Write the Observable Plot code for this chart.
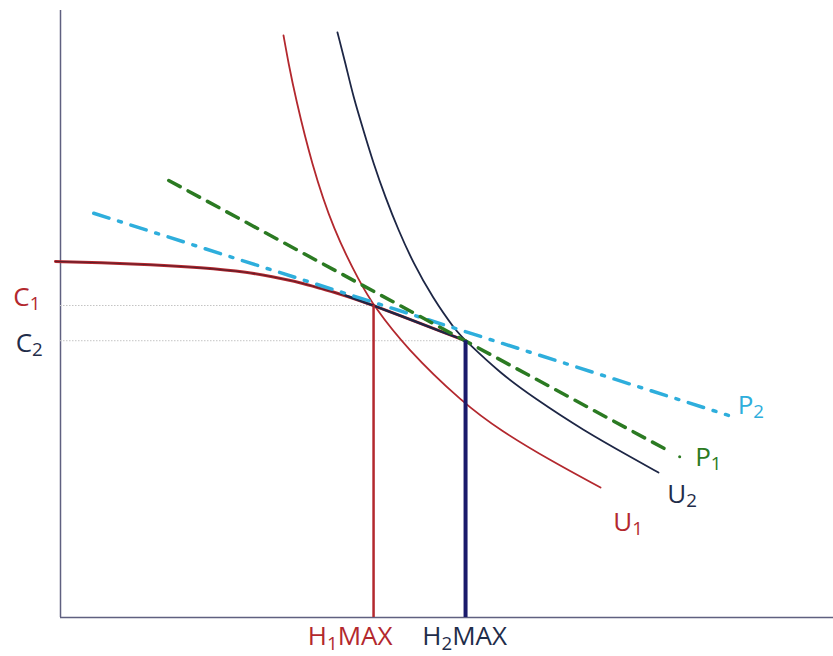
<!DOCTYPE html>
<html><head><meta charset="utf-8">
<script src="https://cdn.jsdelivr.net/npm/d3@7"></script>
<script src="https://cdn.jsdelivr.net/npm/@observablehq/plot@0.6"></script>
<style>html,body{margin:0;padding:0;background:#fff}</style>
</head><body><div id="chart"></div>
<script>
// Key levels (hours on x, consumption on y, arbitrary units)
const H1 = 40.5, H2 = 52.4;
const C1 = 51.4, C2 = 45.6;

// Production / budget frontier
const frontierX = [-0.65, 5.17, 11.64, 18.11, 24.58, 27.17, 31.05, 33.64, 36.87, 40.5, 45.28, 49.55, 52.4];
const frontierY = [58.65, 58.48, 58.15, 57.66, 56.84, 56.18, 55.19, 54.20, 53.05, 51.4, 49.09, 46.95, 45.6];

// Indifference curve U1
const u1X = [28.85, 29.50, 30.40, 32.47, 35.32, 38.81, 40.5, 44.63, 52.13, 56.92, 63.39, 69.86];
const u1Y = [95.88, 91.27, 85.67, 74.79, 63.76, 55.02, 51.4, 44.48, 35.26, 30.81, 25.86, 21.42];

// Indifference curve U2
const u2X = [35.83, 36.87, 37.90, 39.20, 40.49, 42.04, 43.73, 45.67, 48.12, 51.10, 52.4, 56.92, 61.19, 67.66, 74.13, 77.36];
const u2Y = [96.38, 91.27, 85.67, 80.23, 74.79, 69.19, 63.76, 58.32, 52.72, 47.28, 45.6, 40.20, 36.24, 30.81, 26.19, 23.89];

// Price lines
const p1X = [14.0, 78.6], p1Y = [72.0, 27.5];
const p1DotX = [80.1], p1DotY = [26.5];
const p2X = [4.3, 86.4], p2Y = [66.6, 33.3];

// Labels
const labelText = ["C_1", "C_2", "H_1MAX", "H_2MAX", "U_1", "U_2", "P_1", "P_2"];
const labelX = [-6.1, -5.8, 32.0, 46.8, 71.5, 78.5, 82.1, 87.6];
const labelY = [51.4, 43.7, -4.6, -4.6, 14.3, 18.9, 25.0, 33.6];
const labelColor = ["#b3282e", "#1f2d4a", "#b3282e", "#1f2d4a", "#b3282e", "#1f2d4a", "#2b7a22", "#2eaedc"];

const pts = (X, Y) => X.map((x, i) => ({x, y: Y[i]}));
const labels = labelText.map((t, i) => ({t, x: labelX[i], y: labelY[i], c: labelColor[i]}));

const RED = "#b3282e", NAVY = "#1d2645", INDIGO = "#1a1a6b", GREEN = "#2b7a22", CYAN = "#2eaedc";

const chart = Plot.plot({
  width: 833, height: 656,
  marginLeft: 60, marginRight: 0, marginTop: 10, marginBottom: 39,
  x: {domain: [0, 100], axis: null},
  y: {domain: [0, 100], axis: null},
  style: {fontFamily: "Open Sans", background: "#fff"},
  marks: [
    Plot.ruleX([0], {y1: 0, y2: 100, stroke: "#5f6080", strokeWidth: 1.5}),
    Plot.ruleY([0], {x1: 0, x2: 100, stroke: "#5f6080", strokeWidth: 1.5}),
    Plot.ruleY([C1], {x1: 0, x2: H1, stroke: "#c4c4c4", strokeWidth: 1, strokeDasharray: "1.5,1.5"}),
    Plot.ruleY([C2], {x1: 0, x2: H2, stroke: "#c4c4c4", strokeWidth: 1, strokeDasharray: "1.5,1.5"}),
    Plot.line(pts(u1X, u1Y), {x: "x", y: "y", stroke: RED, strokeWidth: 1.8, curve: "basis"}),
    Plot.line(pts(u2X, u2Y), {x: "x", y: "y", stroke: NAVY, strokeWidth: 1.8, curve: "basis"}),
    Plot.line(pts(frontierX, frontierY), {x: "x", y: "y", stroke: RED, strokeWidth: 3, curve: "basis"}),
    Plot.line(pts(frontierX, frontierY), {x: "x", y: "y", stroke: "#3a1a2a", strokeWidth: 1.1, strokeOpacity: 0.7, curve: "basis"}),
    Plot.line(pts(frontierX, frontierY).filter(d => d.x >= H1 - 4), {x: "x", y: "y", stroke: NAVY, strokeWidth: 2.2, curve: "basis"}),
    Plot.line(pts(p2X, p2Y), {x: "x", y: "y", stroke: CYAN, strokeWidth: 3.5, strokeDasharray: "16,10,3,10"}),
    Plot.line(pts(p1X, p1Y), {x: "x", y: "y", stroke: GREEN, strokeWidth: 3.5, strokeDasharray: "13,9"}),
    Plot.dot(pts(p1DotX, p1DotY), {x: "x", y: "y", r: 1.5, fill: GREEN, stroke: null}),
    Plot.ruleX([H1], {y1: 0, y2: C1, stroke: RED, strokeWidth: 2.5}),
    Plot.ruleX([H2], {y1: 0, y2: C2, stroke: INDIGO, strokeWidth: 4}),
    Plot.text(labels, {x: "x", y: "y", text: "t", fill: "c", textAnchor: "start", lineAnchor: "bottom", fontSize: 26})
  ]
});
document.getElementById("chart").appendChild(chart);

// Render "_d" as a subscript digit
chart.querySelectorAll("text").forEach(el => {
  const s = el.textContent;
  if (!s.includes("_")) return;
  const i = s.indexOf("_");
  const before = s.slice(0, i), sub = s[i + 1], after = s.slice(i + 2);
  el.textContent = "";
  const ns = "http://www.w3.org/2000/svg";
  const a = document.createElementNS(ns, "tspan"); a.textContent = before; el.appendChild(a);
  const b = document.createElementNS(ns, "tspan"); b.textContent = sub;
  b.setAttribute("font-size", "0.72em"); b.setAttribute("dy", "0.22em"); el.appendChild(b);
  if (after) {
    const c = document.createElementNS(ns, "tspan"); c.textContent = after;
    c.setAttribute("dy", "-0.16em"); el.appendChild(c);
  }
});
</script>
</body></html>
